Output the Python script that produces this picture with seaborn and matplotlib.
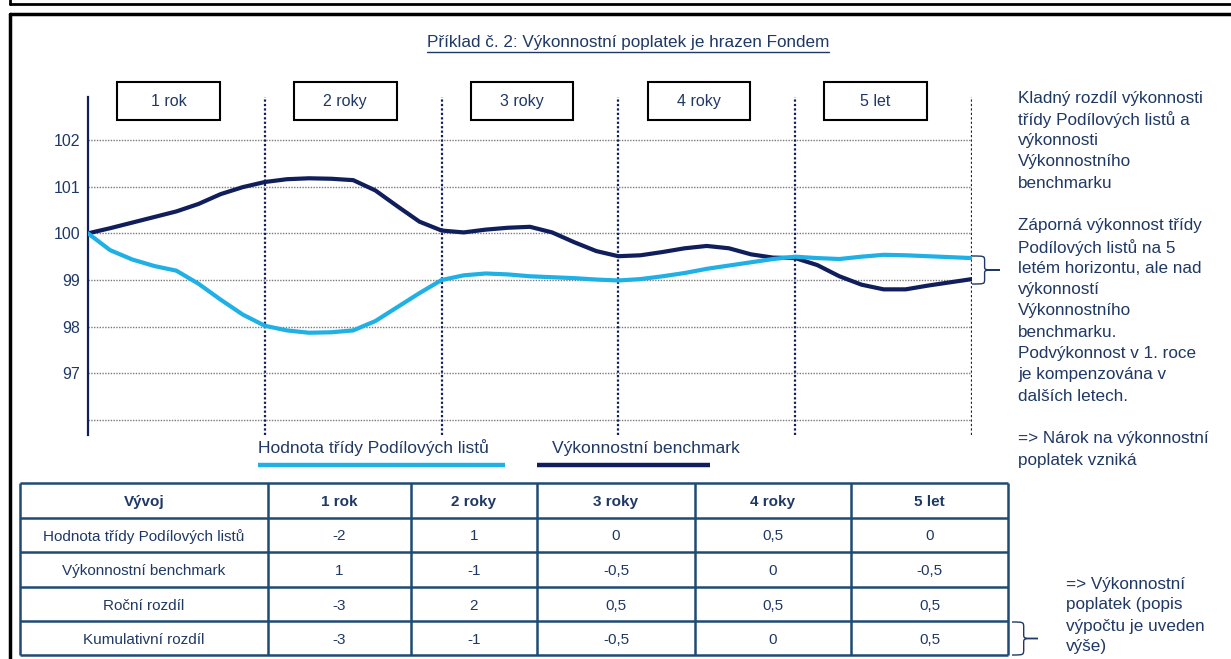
import seaborn as sns
import matplotlib.pyplot as plt
import pandas as pd
from matplotlib.patches import Rectangle, PathPatch
from matplotlib.path import Path

# --- data ---
t = [0, 0.125, 0.25, 0.375, 0.5, 0.625, 0.75, 0.875, 1, 1.125, 1.25, 1.375, 1.5, 1.625,
     1.75, 1.875, 2, 2.125, 2.25, 2.375, 2.5, 2.625, 2.75, 2.875, 3, 3.125, 3.25, 3.375,
     3.5, 3.625, 3.75, 3.875, 4, 4.125, 4.25, 4.375, 4.5, 4.625, 4.75, 4.875, 5]
fund = [100, 99.64, 99.44, 99.3, 99.2, 98.92, 98.58, 98.26, 98.02, 97.92, 97.87, 97.88,
        97.92, 98.12, 98.42, 98.72, 99.0, 99.1, 99.14, 99.12, 99.08, 99.06, 99.04, 99.01,
        98.99, 99.02, 99.08, 99.15, 99.24, 99.31, 99.38, 99.45, 99.5, 99.47, 99.45, 99.5,
        99.54, 99.53, 99.51, 99.49, 99.47]
bench = [100, 100.11, 100.23, 100.35, 100.47, 100.63, 100.84, 100.99, 101.1, 101.16, 101.18,
         101.17, 101.14, 100.92, 100.58, 100.25, 100.06, 100.02, 100.08, 100.12, 100.14,
         100.02, 99.81, 99.62, 99.51, 99.53, 99.6, 99.68, 99.73, 99.68, 99.55, 99.48, 99.47,
         99.32, 99.08, 98.9, 98.8, 98.8, 98.88, 98.95, 99.02]

periods = ['1 rok', '2 roky', '3 roky', '4 roky', '5 let']
yticks = [97, 98, 99, 100, 101, 102]
grid_levels = [96, 97, 98, 99, 100, 101, 102]

row_labels = ['Hodnota třídy Podílových listů', 'Výkonnostní benchmark',
              'Roční rozdíl', 'Kumulativní rozdíl']
fund_ret = ['-2', '1', '0', '0,5', '0']
bench_ret = ['1', '-1', '-0,5', '0', '-0,5']
annual_diff = ['-3', '2', '0,5', '0,5', '0,5']
cum_diff = ['-3', '-1', '-0,5', '0', '0,5']

title = 'Příklad č. 2: Výkonnostní poplatek je hrazen Fondem'
note_top = ['Kladný rozdíl výkonnosti', 'třídy Podílových listů a', 'výkonnosti',
            'Výkonnostního', 'benchmarku', '',
            'Záporná výkonnost třídy', 'Podílových listů na 5', 'letém horizontu, ale nad',
            'výkonností', 'Výkonnostního', 'benchmarku.', 'Podvýkonnost v 1. roce',
            'je kompenzována v', 'dalších letech.', '',
            '=> Nárok na výkonnostní', 'poplatek vzniká']
note_bottom = ['=> Výkonnostní', 'poplatek (popis', 'výpočtu je uveden', 'výše)']

DARK = '#101f5b'
LIGHT = '#1fb0e6'
TXT = '#1f3864'
TBL = '#1f4a72'

W, H = 1231, 659
sns.set_theme(style='white')
plt.rcParams['font.family'] = ['Liberation Sans', 'DejaVu Sans']

fig = plt.figure(figsize=(W / 100, H / 100), dpi=100)
fig.patch.set_facecolor('white')

# overlay in pixel coordinates for frame, table, notes
ov = fig.add_axes([0, 0, 1, 1])
ov.set_xlim(0, W)
ov.set_ylim(H, 0)
ov.axis('off')

# chart axes: x 88..972 px, y 80..437 px
ax = fig.add_axes([88 / W, 1 - 437 / H, 884 / W, 357 / H])
ax.set_facecolor('none')
ax.set_xlim(0, 5)
ax.set_ylim(95.636, 103.286)

ax.hlines(grid_levels, 0, 5, colors='#7a7a7a', linestyles=(0, (1, 1)), lw=1, zorder=1)
ax.vlines([1, 2, 3, 4, 5], 95.68, 102.92, colors=DARK, linestyles=(0, (1, 1)), lw=1.6, zorder=1)

df = pd.DataFrame({'t': t, 'fund': fund, 'bench': bench})
sns.lineplot(data=df, x='t', y='bench', color=DARK, lw=3, ax=ax, zorder=3,
             solid_joinstyle='round')
sns.lineplot(data=df, x='t', y='fund', color=LIGHT, lw=3, ax=ax, zorder=4,
             solid_joinstyle='round')

for i, p in enumerate(periods):
    cx = i + 0.455
    ax.add_patch(Rectangle((cx - 0.29, 102.43), 0.58, 0.81, fill=False,
                           ec='black', lw=1.5, clip_on=False))
    ax.text(cx, 102.83, p, ha='center', va='center', fontsize=11.5, color=TXT)

for s in ['top', 'right', 'bottom']:
    ax.spines[s].set_visible(False)
ax.spines['left'].set_color(DARK)
ax.spines['left'].set_linewidth(1.6)
ax.spines['left'].set_bounds(95.68, 102.92)
ax.set_xticks([])
ax.set_yticks(yticks)
ax.set_yticklabels([str(v) for v in yticks])
ax.tick_params(axis='y', length=0, pad=5.5, labelsize=11.5, labelcolor=TXT)
ax.set_xlabel('')
ax.set_ylabel('')

# frame lines
ov.plot([10, W], [4, 4], color='black', lw=2)
ov.plot([10, 10], [0, 4], color='black', lw=2)
ov.plot([10, W], [14, 14], color='black', lw=2.5)
ov.plot([10, 10], [14, H], color='black', lw=2.5)

# title with underline
ttl = ov.text(628, 42, title, ha='center', va='center', fontsize=12.3, color=TXT)
fig.canvas.draw()
bb = ttl.get_window_extent().transformed(ov.transData.inverted())
ov.plot([bb.x0, bb.x1], [52, 52], color=TXT, lw=1)

# legend
ov.text(258, 448, 'Hodnota třídy Podílových listů', va='center', fontsize=12.6, color=TXT)
ov.plot([258, 505], [465, 465], color=LIGHT, lw=3.2, solid_capstyle='butt')
ov.text(552, 448, 'Výkonnostní benchmark', va='center', fontsize=12.6, color=TXT)
ov.plot([537, 710], [465, 465], color=DARK, lw=3.2, solid_capstyle='butt')

# notes on the right
for i, line in enumerate(note_top):
    ov.text(1018, 98 + 21.3 * i, line, va='center', fontsize=12.3, color=TXT)
for i, line in enumerate(note_bottom):
    ov.text(1066, 584 + 21 * i, line, va='center', fontsize=12.3, color=TXT)


def brace(x0, y0, y1, w):
    ym = (y0 + y1) / 2
    xm = x0 + w * 0.45
    h = y1 - y0
    verts = [(x0, y0), (xm, y0), (xm, y0), (xm, y0 + h * 0.18),
             (xm, ym - h * 0.12),
             (xm, ym), (xm, ym), (x0 + w, ym),
             (xm, ym), (xm, ym), (xm, ym + h * 0.12),
             (xm, y1 - h * 0.18),
             (xm, y1), (xm, y1), (x0, y1)]
    codes = [Path.MOVETO, Path.CURVE4, Path.CURVE4, Path.CURVE4,
             Path.LINETO,
             Path.CURVE4, Path.CURVE4, Path.CURVE4,
             Path.CURVE4, Path.CURVE4, Path.CURVE4,
             Path.LINETO,
             Path.CURVE4, Path.CURVE4, Path.CURVE4]
    ov.add_patch(PathPatch(Path(verts, codes), fill=False, ec=TXT, lw=1))


brace(972, 256, 284, 28)
brace(1012, 622, 655, 26)

# table
xs = [20, 268, 411, 537, 695, 851, 1008]
ys = [483, 518, 552, 587, 621, 655]
ov.hlines(ys, xs[0], xs[-1], colors=TBL, lw=1.8)
ov.vlines(xs, ys[0], ys[-1], colors=TBL, lw=1.8)
rows = [['Vývoj'] + periods,
        [row_labels[0]] + fund_ret,
        [row_labels[1]] + bench_ret,
        [row_labels[2]] + annual_diff,
        [row_labels[3]] + cum_diff]
for r, row in enumerate(rows):
    yc = (ys[r] + ys[r + 1]) / 2
    for c, val in enumerate(row):
        xc = (xs[c] + xs[c + 1]) / 2
        ov.text(xc, yc, val, ha='center', va='center_baseline', fontsize=11,
                color=TXT, fontweight='bold' if r == 0 else 'normal')

fig.savefig('out.png', dpi=100)
